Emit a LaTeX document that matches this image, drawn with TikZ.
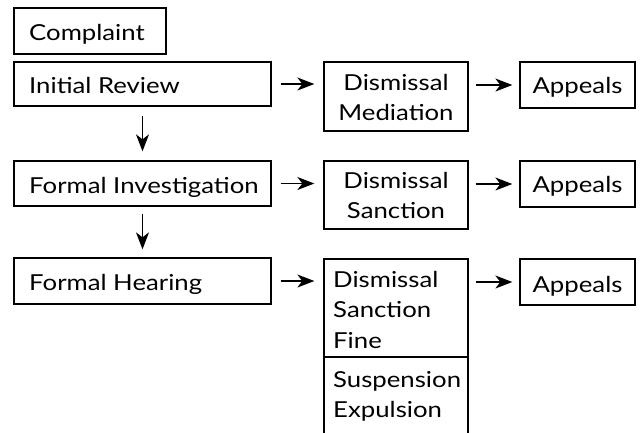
\documentclass[tikz,border=0pt]{standalone}
\usepackage{fontspec}
\setmainfont{Lato}[FakeStretch=1.17]
\usetikzlibrary{arrows.meta,fit}
\begin{document}
\begin{tikzpicture}[x=1pt,y=-1pt,
  box/.style={draw, line width=1.3pt, inner sep=0pt},
  flow/.style={line width=1.4pt, -{Stealth[length=17pt,width=13pt,inset=5pt]}},
  txt/.style={inner sep=0pt, font=\fontsize{22}{30}\selectfont},
  ltxt/.style={txt, anchor=base west},
  ctxt/.style={txt, anchor=base}]
\useasboundingbox[fill=white] (0,0) rectangle (641,432);

% main stages
\node[box, fit={(14,8) (166,54)}] (complaint) {};
\node[box, fit={(14,62) (271,106)}] (review) {};
\node[box, fit={(14,161) (271,206)}] (invest) {};
\node[box, fit={(14,258) (271,304)}] (hearing) {};

% outcomes
\node[box, fit={(324,62) (468,131)}] (mediation) {};
\node[box, fit={(324,161) (468,229)}] (sanction) {};
\node[box, fit={(324,259) (468,357)}] (penalty) {};
\node[box, fit={(324,357) (468,446)}] (severe) {};

% appeals
\node[box, fit={(520,62) (635,108)}] (appealA) {};
\node[box, fit={(520,161) (635,207)}] (appealB) {};
\node[box, fit={(520,259) (635,305)}] (appealC) {};

% labels
\node[ltxt] (tComplaint) at (29,40) {Complaint};
\node[ltxt] (tReview) at (29,93) {Initial Review};
\node[ltxt] (tInvest) at (29,193) {Formal Investigation};
\node[ltxt] (tHearing) at (29,290) {Formal Hearing};

\node[ctxt] (tMedA) at (396,90) {Dismissal};
\node[ctxt] (tMedB) at (396,120) {Mediation};
\node[ctxt] (tSanA) at (396,188) {Dismissal};
\node[ctxt] (tSanB) at (396,218) {Sanction};

\node[ltxt] (tPenA) at (333,287) {Dismissal};
\node[ltxt] (tPenB) at (333,317) {Sanction};
\node[ltxt] (tPenC) at (333,348) {Fine};
\node[ltxt] (tSevA) at (333,387) {Suspension};
\node[ltxt] (tSevB) at (333,417) {Expulsion};

\node[ctxt] (tAppA) at (577.5,93) {Appeals};
\node[ctxt] (tAppB) at (577.5,192) {Appeals};
\node[ctxt] (tAppC) at (577.5,292) {Appeals};

% connectors
\draw[flow, shorten <=9pt, shorten >=9pt] (review.south) -- (invest.north);
\draw[flow, shorten <=7pt, shorten >=8pt] (invest.south) -- (hearing.north);

\draw[flow, shorten <=9pt, shorten >=9pt] (review.east) -- (review.east -| mediation.west);
\draw[flow, shorten <=9pt, shorten >=9pt] (invest.east) -- (invest.east -| sanction.west);
\draw[flow, shorten <=9pt, shorten >=9pt] (hearing.east) -- (hearing.east -| penalty.west);

\draw[flow, shorten <=7pt, shorten >=7pt] (appealA.west -| mediation.east) -- (appealA.west);
\draw[flow, shorten <=7pt, shorten >=7pt] (appealB.west -| sanction.east) -- (appealB.west);
\draw[flow, shorten <=7pt, shorten >=7pt] (appealC.west -| penalty.east) -- (appealC.west);
\end{tikzpicture}
\end{document}
